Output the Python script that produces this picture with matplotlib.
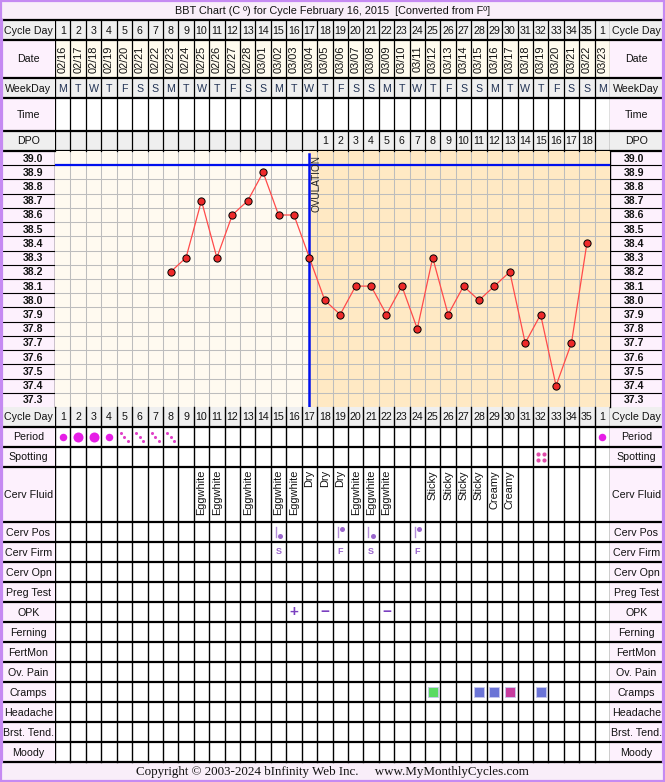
import matplotlib
matplotlib.use('Agg')
import matplotlib.pyplot as plt
from matplotlib.patches import Rectangle
from matplotlib.transforms import blended_transform_factory

plt.rcParams['font.family'] = ['Liberation Sans', 'DejaVu Sans']

# ---------------- data ----------------
title = "BBT Chart (C \u00ba) for Cycle February 16, 2015  [Converted from F\u00ba]"
copyright_text = "Copyright \u00a9 2003-2024 bInfinity Web Inc.     www.MyMonthlyCycles.com"

cycle_days = [1, 2, 3, 4, 5, 6, 7, 8, 9, 10, 11, 12, 13, 14, 15, 16, 17, 18, 19, 20,
              21, 22, 23, 24, 25, 26, 27, 28, 29, 30, 31, 32, 33, 34, 35, 1]
dates = ["02/16", "02/17", "02/18", "02/19", "02/20", "02/21", "02/22", "02/23", "02/24",
         "02/25", "02/26", "02/27", "02/28", "03/01", "03/02", "03/03", "03/04", "03/05",
         "03/06", "03/07", "03/08", "03/09", "03/10", "03/11", "03/12", "03/13", "03/14",
         "03/15", "03/16", "03/17", "03/18", "03/19", "03/20", "03/21", "03/22", "03/23"]
weekdays = ["M", "T", "W", "T", "F", "S", "S", "M", "T", "W", "T", "F", "S", "S", "M", "T",
            "W", "T", "F", "S", "S", "M", "T", "W", "T", "F", "S", "S", "M", "T", "W", "T",
            "F", "S", "S", "M"]
dpo = ["", "", "", "", "", "", "", "", "", "", "", "", "", "", "", "", "",
       "1", "2", "3", "4", "5", "6", "7", "8", "9", "10", "11", "12", "13", "14", "15",
       "16", "17", "18", ""]
temps = [None, None, None, None, None, None, None,
         38.2, 38.3, 38.7, 38.3, 38.6, 38.7, 38.9, 38.6, 38.6, 38.3, 38.0, 37.9, 38.1,
         38.1, 37.9, 38.1, 37.8, 38.3, 37.9, 38.1, 38.0, 38.1, 38.2, 37.7, 37.9, 37.4,
         37.7, 38.4, None]
temp_labels = ["39.0", "38.9", "38.8", "38.7", "38.6", "38.5", "38.4", "38.3", "38.2",
               "38.1", "38.0", "37.9", "37.8", "37.7", "37.6", "37.5", "37.4", "37.3"]
ovulation_col = 17
coverline = 38.95

period = ["M", "H", "H", "M", "L", "L", "L", "L"] + [""] * 27 + ["M"]
spotting_cols = [32]
cerv_fluid = {10: "Eggwhite", 11: "Eggwhite", 13: "Eggwhite", 15: "Eggwhite",
              16: "Eggwhite", 17: "Dry", 18: "Dry", 19: "Dry", 20: "Eggwhite",
              21: "Eggwhite", 22: "Eggwhite", 25: "Sticky", 26: "Sticky", 27: "Sticky",
              28: "Sticky", 29: "Creamy", 30: "Creamy"}
cerv_pos = {15: "low", 19: "high", 21: "low", 24: "high"}
cerv_firm = {15: "S", 19: "F", 21: "S", 24: "F"}
opk = {16: "+", 18: "\u2212", 22: "\u2212"}
cramps = {25: "green", 28: "blue", 29: "blue", 30: "magenta", 32: "blue"}

# ---------------- layout (pixels) ----------------
W, H = 665, 782
LX0, LX1 = 2, 55        # left label column
RX0, RX1 = 610, 663     # right label column
NCOL = 36

header_rows = [("Cycle Day", 20, 40, "grey"), ("Date", 40, 78, "date"),
               ("WeekDay", 78, 98, "grey"), ("Time", 98, 131, "white"),
               ("DPO", 131, 151, "grey")]
CH_TOP, CH_BOT = 151, 407
lower_names = ["Cycle Day", "Period", "Spotting", "Cerv Fluid", "Cerv Pos", "Cerv Firm",
               "Cerv Opn", "Preg Test", "OPK", "Ferning", "FertMon", "Ov. Pain", "Cramps",
               "Headache", "Brst. Tend.", "Moody"]
lower_heights = [20, 20, 20, 55, 20, 20, 20, 20, 20, 20, 20, 20, 20, 20, 20, 20]
lower_rows = []
y = CH_BOT
for n, h in zip(lower_names, lower_heights):
    lower_rows.append((n, y, y + h))
    y += h
TBL_BOT = y  # 762

PINK = "#fdf1fd"
GREY = "#efefef"
CREAM_DATE = "#fffbee"
PRE = "#fffaf0"
POST = "#ffe9c4"
BORDER = "#c58af2"
PURPLE = "#9a66cc"
FS = 7.7

fig = plt.figure(figsize=(W / 100, H / 100), dpi=100)
ax = fig.add_axes([0, 0, 1, 1])
ax.set_xlim(0, W)
ax.set_ylim(H, 0)
ax.axis("off")
ax.set_zorder(0)

axc = fig.add_axes([LX1 / W, (H - CH_BOT) / H, (RX0 - LX1) / W, (CH_BOT - CH_TOP) / H])
axc.set_xlim(0.5, NCOL + 0.5)
axc.set_ylim(37.25, 39.05)
axc.axis("off")
axc.patch.set_visible(False)
axc.set_zorder(2)

axd = fig.add_axes([LX1 / W, 0, (RX0 - LX1) / W, 1])
axd.set_xlim(0.5, NCOL + 0.5)
axd.set_ylim(H, 0)
axd.axis("off")
axd.patch.set_visible(False)
axd.set_zorder(3)

cols = list(range(1, NCOL + 1))

# ----- backgrounds -----
ax.add_patch(Rectangle((0, 0), W, H, facecolor="white", edgecolor="none", zorder=0))
ax.add_patch(Rectangle((LX0, 1), RX1 - LX0, 19, facecolor="#f9eef9", edgecolor="none", zorder=0))
ax.add_patch(Rectangle((LX0, TBL_BOT), RX1 - LX0, H - 1 - TBL_BOT, facecolor="#f9eef9",
                       edgecolor="none", zorder=0))
for x0 in (LX0, RX0):
    ax.add_patch(Rectangle((x0, 20), LX1 - LX0, TBL_BOT - 20, facecolor=PINK,
                           edgecolor="none", zorder=0))

def fill_row(top, bot, color, include_labels):
    if include_labels:
        ax.add_patch(Rectangle((LX0, top), RX1 - LX0, bot - top, facecolor=color,
                               edgecolor="none", zorder=0.5))
    else:
        ax.add_patch(Rectangle((LX1, top), RX0 - LX1, bot - top, facecolor=color,
                               edgecolor="none", zorder=0.5))

for name, top, bot, kind in header_rows:
    if kind == "grey":
        fill_row(top, bot, GREY, True)
    elif kind == "date":
        fill_row(top, bot, CREAM_DATE, False)
fill_row(lower_rows[0][1], lower_rows[0][2], GREY, True)

# chart background
axc.add_patch(Rectangle((0.5, 37.25), NCOL, 1.8, facecolor=PRE, edgecolor="none", zorder=0))
axc.add_patch(Rectangle((ovulation_col, 37.25), NCOL + 0.5 - ovulation_col, 1.8,
                        facecolor=POST, edgecolor="none", zorder=0))
# chart grid
for c in range(1, NCOL):
    axc.axvline(c + 0.5, color="#bdbdbd", lw=0.75, zorder=1)
for i in range(len(temp_labels) - 1):
    yv = float(temp_labels[i]) - 0.05
    axc.axhline(yv, color="#bdbdbd", lw=0.75, zorder=1)

# ----- row labels -----
def row_label(name, top, bot):
    for (x0, x1) in ((LX0, LX1), (RX0, RX1)):
        t = ax.text((x0 + x1) / 2, (top + bot) / 2 + 0.5, name, ha="center", va="center",
                    fontsize=FS, color="#111111", zorder=5)
        clip = Rectangle((x0, top), x1 - x0, bot - top, transform=ax.transData)
        t.set_clip_path(clip)

for name, top, bot, kind in header_rows:
    row_label(name, top, bot)
for name, top, bot in lower_rows:
    row_label(name, top, bot)

# temperature label columns
for lab in temp_labels:
    yv = float(lab)
    ypx = CH_TOP + (39.05 - yv) / 1.8 * (CH_BOT - CH_TOP)
    ax.text(33, ypx + 0.5, lab, ha="center", va="center", fontsize=7.6,
            fontweight="bold", color="#111111", zorder=5)
    ax.text(634, ypx + 0.5, lab, ha="center", va="center", fontsize=7.6,
            fontweight="bold", color="#111111", zorder=5)
for i in range(len(temp_labels) - 1):
    yv = float(temp_labels[i]) - 0.05
    ypx = CH_TOP + (39.05 - yv) / 1.8 * (CH_BOT - CH_TOP)
    ax.plot([LX0, LX1], [ypx, ypx], color="black", lw=0.8, zorder=4)
    ax.plot([RX0, RX1], [ypx, ypx], color="black", lw=0.8, zorder=4)

# ----- header cell contents -----
cd_top, cd_bot = header_rows[0][1], header_rows[0][2]
for c, d in zip(cols, cycle_days):
    axd.text(c, (cd_top + cd_bot) / 2 + 0.5, str(d), ha="center", va="center", fontsize=FS,
             color="#111111")
lt, lb = lower_rows[0][1], lower_rows[0][2]
for c, d in zip(cols, cycle_days):
    axd.text(c, (lt + lb) / 2 + 0.5, str(d), ha="center", va="center", fontsize=FS,
             color="#111111")
dt, db = header_rows[1][1], header_rows[1][2]
for c, d in zip(cols, dates):
    axd.text(c, (dt + db) / 2, d, ha="center", va="center", rotation=90, fontsize=7.9,
             color="#111111")
wt, wb = header_rows[2][1], header_rows[2][2]
for c, d in zip(cols, weekdays):
    axd.text(c, (wt + wb) / 2 + 0.5, d, ha="center", va="center", fontsize=FS,
             color="#223355")
pt, pb = header_rows[4][1], header_rows[4][2]
for c, d in zip(cols, dpo):
    if d:
        axd.text(c, (pt + pb) / 2 + 0.5, d, ha="center", va="center", fontsize=FS,
                 color="#111111")

# ----- temperature chart -----
xs = [c for c, t in zip(cols, temps) if t is not None]
ys = [t for t in temps if t is not None]
axc.plot(xs, ys, color="#ff4a4a", lw=0.9, zorder=4)
axc.plot(xs, ys, "o", color="#ee2a2a", markeredgecolor="black", markeredgewidth=0.7,
         markersize=5.2, zorder=5, linestyle="none")
axc.axhline(coverline, color="#0010ee", lw=1.6, zorder=3)
axc.axvline(ovulation_col, color="#0010ee", lw=1.8, ymin=0.0, ymax=0.99, zorder=3)
tr = blended_transform_factory(axc.transData, axc.transAxes)
axc.text(ovulation_col + 0.12, 0.985, "OVULATION", transform=tr, rotation=90, ha="left",
         va="top", fontsize=7.2, color="#222222", zorder=6)

# ----- lower rows contents -----
rows = {n: (t, b) for n, t, b in lower_rows}
def mid(n):
    t, b = rows[n]
    return (t + b) / 2

# period
pm = mid("Period")
for c, p in zip(cols, period):
    if p == "H":
        axd.plot(c, pm, "o", color="#e61ee6", markersize=7.2, markeredgewidth=0)
    elif p == "M":
        axd.plot(c, pm, "o", color="#e61ee6", markersize=5.4, markeredgewidth=0)
    elif p == "L":
        axd.plot([c - 0.24, c, c + 0.24], [pm - 3.6, pm, pm + 3.9], "o", color="#e040c8",
                 markersize=2.2, markeredgewidth=0, linestyle="none")
# spotting
sm = mid("Spotting")
for c in spotting_cols:
    axd.plot([c - 0.2, c + 0.2, c - 0.2, c + 0.2], [sm - 3, sm - 3, sm + 3, sm + 3], "o",
             color="#e04caa", markersize=3.0, markeredgewidth=0, linestyle="none")
# cerv fluid
ft, fb = rows["Cerv Fluid"]
for c, txt in cerv_fluid.items():
    axd.text(c, ft + 3, txt, rotation=90, ha="center", va="top", fontsize=7.9,
             color="#111111")
# cerv pos
ct, cb = rows["Cerv Pos"]
for c, pos in cerv_pos.items():
    axd.plot([c - 0.17, c - 0.17], [ct + 5, cb - 5], color="#b48fd8", lw=1.0)
    yy = cb - 6.5 if pos == "low" else ct + 6.5
    axd.plot(c + 0.1, yy, "o", color=PURPLE, markersize=3.6, markeredgewidth=0)
# cerv firm
fm = mid("Cerv Firm")
for c, f in cerv_firm.items():
    axd.text(c, fm - 1, f, ha="center", va="center", fontsize=6.5, color=PURPLE,
             fontweight="bold")
# opk
om = mid("OPK")
for c, o in opk.items():
    axd.text(c, om, o, ha="center", va="center", fontsize=11, color="#7a3fc0",
             fontweight="bold")
# cramps
cramp_colors = {"green": "#5adb62", "blue": "#6b74d6", "magenta": "#c63c9e"}
cm = mid("Cramps")
for c, lvl in cramps.items():
    axd.plot(c, cm, "s", color=cramp_colors[lvl], markersize=6.6, markeredgewidth=0.6,
             markeredgecolor="#c9c9ee")

# ----- table lines -----
for c in range(0, NCOL + 1):
    xv = c + 0.5
    axd.plot([xv, xv], [20, CH_TOP], color="black", lw=0.9, zorder=1)
    axd.plot([xv, xv], [CH_BOT, TBL_BOT], color="black", lw=1.0, zorder=1)
ax.plot([LX1, LX1], [CH_TOP, CH_BOT], color="black", lw=1.0, zorder=6)
ax.plot([RX0, RX0], [CH_TOP, CH_BOT], color="black", lw=1.0, zorder=6)
hlines = [20] + [b for _, _, b, _ in header_rows] + [b for _, _, b in lower_rows]
for yv in hlines:
    ax.plot([LX0, RX1], [yv, yv], color="black", lw=1.6, zorder=6)

# outer border
ax.add_patch(Rectangle((1, 1), W - 2, H - 2, facecolor="none", edgecolor=BORDER, lw=1.6,
                       zorder=7))
ax.plot([LX0, LX0], [20, TBL_BOT], color=BORDER, lw=1.6, zorder=7)
ax.plot([RX1, RX1], [20, TBL_BOT], color=BORDER, lw=1.6, zorder=7)

# title / copyright
ax.text(W / 2, 10.5, title, ha="center", va="center", fontsize=7.8, color="#111111", zorder=8)
ax.text(W / 2, 772.5, copyright_text, ha="center", va="center", fontsize=9.4,
        family=["Liberation Serif", "DejaVu Serif"], color="#111111", zorder=8)

fig.savefig("out.png", dpi=100)
